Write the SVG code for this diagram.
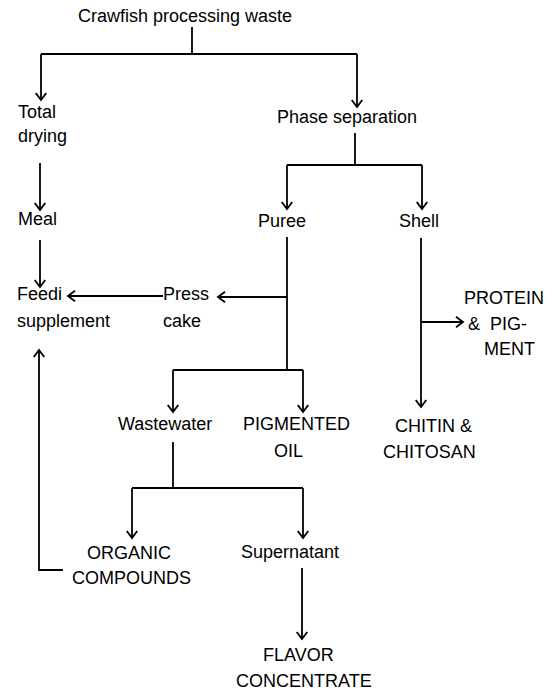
<svg xmlns="http://www.w3.org/2000/svg" width="554" height="691" viewBox="0 0 554 691">
  <defs>
    <marker id="arr" markerUnits="userSpaceOnUse" markerWidth="14" markerHeight="14" viewBox="-8 -6 10 12" refX="0" refY="0" orient="auto">
      <path d="M-6,-4.5 L0,0 L-6,4.5" fill="none" stroke="#000" stroke-width="1.6"/>
    </marker>
    <style>
      text { font-family: "Liberation Sans", Arial, sans-serif; font-size: 18px; fill: #000; }
      .c { fill: none; stroke: #000; stroke-width: 1.8; }
      .a { marker-end: url(#arr); }
    </style>
  </defs>
  <rect width="554" height="691" fill="#fff"/>

  <g id="connectors">
    <path class="c" d="M192,27 V54"/>
    <path class="c" d="M41,54 H357"/>
    <path class="c a" d="M41,54 V100"/>
    <path class="c a" d="M357,54 V107"/>
    <path class="c a" d="M40,163 V210"/>
    <path class="c a" d="M40,240 V287"/>
    <path class="c" d="M355,133 V165"/>
    <path class="c" d="M287,165 H422"/>
    <path class="c a" d="M287,165 V209"/>
    <path class="c a" d="M422,165 V209"/>
    <path class="c" d="M287,237 V370"/>
    <path class="c a" d="M287,297 H218"/>
    <path class="c a" d="M163,296 H68"/>
    <path class="c" d="M173,370 H303"/>
    <path class="c a" d="M173,370 V412"/>
    <path class="c a" d="M303,370 V412"/>
    <path class="c a" d="M421,238 V407"/>
    <path class="c a" d="M421,322 H463"/>
    <path class="c" d="M173,442 V488"/>
    <path class="c" d="M132,488 H303"/>
    <path class="c a" d="M132,488 V538"/>
    <path class="c a" d="M303,488 V538"/>
    <path class="c a" d="M63,570 H39 V350"/>
    <path class="c a" d="M302,568 V639"/>
  </g>

  <g id="crawfish-waste"><text x="78" y="22">Crawfish processing waste</text></g>
  <g id="total-drying"><text x="18" y="118">Total</text><text x="18" y="142">drying</text></g>
  <g id="meal"><text x="18" y="225">Meal</text></g>
  <g id="feed-supplement"><text x="17" y="300">Feedi</text><text x="17" y="327">supplement</text></g>
  <g id="press-cake"><text x="163" y="300">Press</text><text x="163" y="327">cake</text></g>
  <g id="phase-separation"><text x="277" y="123">Phase separation</text></g>
  <g id="puree"><text x="258" y="227">Puree</text></g>
  <g id="shell"><text x="399" y="227">Shell</text></g>
  <g id="protein-pigment"><text x="464" y="304">PROTEIN</text><text x="468" y="330" xml:space="preserve">&amp;  PIG-</text><text x="484" y="355">MENT</text></g>
  <g id="wastewater"><text x="118" y="430">Wastewater</text></g>
  <g id="pigmented-oil"><text x="243" y="430">PIGMENTED</text><text x="274" y="457">OIL</text></g>
  <g id="chitin-chitosan"><text x="395" y="432">CHITIN &amp;</text><text x="383" y="458">CHITOSAN</text></g>
  <g id="organic-compounds"><text x="87" y="559">ORGANIC</text><text x="72" y="584">COMPOUNDS</text></g>
  <g id="supernatant"><text x="241" y="558">Supernatant</text></g>
  <g id="flavor-concentrate"><text x="263" y="661">FLAVOR</text><text x="236" y="687">CONCENTRATE</text></g>
</svg>
